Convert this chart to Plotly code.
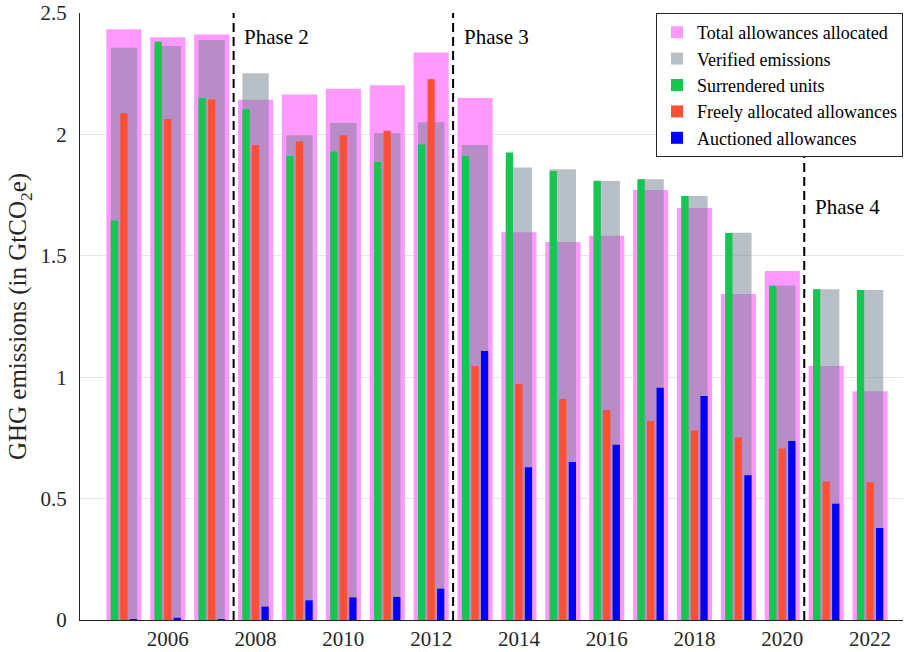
import plotly.graph_objects as go

# EU ETS phases 1-4, values in GtCO2e
years = list(range(2005, 2023))
total_allocated = [2.433, 2.400, 2.411, 2.143, 2.164, 2.188, 2.202, 2.337, 2.150,
                   1.597, 1.557, 1.583, 1.771, 1.697, 1.343, 1.437, 1.046, 0.942]
verified = [2.357, 2.364, 2.389, 2.252, 1.996, 2.047, 2.006, 2.050, 1.956,
            1.864, 1.856, 1.808, 1.815, 1.746, 1.595, 1.378, 1.362, 1.359]
surrendered = [1.645, 2.383, 2.150, 2.105, 1.911, 1.930, 1.886, 1.958, 1.911,
               1.925, 1.849, 1.809, 1.815, 1.746, 1.594, 1.376, 1.362, 1.359]
freely_allocated = [2.087, 2.063, 2.144, 1.956, 1.971, 1.997, 2.015, 2.227, 1.046,
                    0.972, 0.910, 0.865, 0.820, 0.780, 0.752, 0.706, 0.570, 0.567]
auctioned = [0.002, 0.009, 0.004, 0.055, 0.081, 0.093, 0.095, 0.129, 1.108,
             0.629, 0.651, 0.722, 0.957, 0.923, 0.596, 0.737, 0.479, 0.379]

phase_starts = [2007.5, 2012.5, 2020.5]
phase_labels = ["Phase 2", "Phase 3", "Phase 4"]
phase_label_y = [2.40, 2.40, 1.70]

FONT = "Liberation Serif, Times New Roman, serif"

fig = go.Figure()

fig.add_trace(go.Bar(x=years, y=total_allocated, name="Total allowances allocated",
                     width=0.8, offset=-0.4, marker_color="#ff99ff", marker_line_width=0))
fig.add_trace(go.Bar(x=years, y=verified, name="Verified emissions",
                     width=0.6, offset=-0.3, marker_color="rgba(112,128,144,0.5)",
                     marker_line_width=0))
fig.add_trace(go.Bar(x=years, y=surrendered, name="Surrendered units",
                     width=0.165, offset=-0.3, marker_color="#17c64f", marker_line_width=0))
fig.add_trace(go.Bar(x=years, y=freely_allocated, name="Freely allocated allowances",
                     width=0.165, offset=-0.0825, marker_color="#ff5033", marker_line_width=0))
fig.add_trace(go.Bar(x=years, y=auctioned, name="Auctioned allowances",
                     width=0.165, offset=0.135, marker_color="#0000ff", marker_line_width=0))

# phase boundaries
for xs, label, ly in zip(phase_starts, phase_labels, phase_label_y):
    fig.add_shape(type="line", x0=xs, x1=xs, y0=0, y1=1, xref="x", yref="paper",
                  line=dict(color="black", width=2, dash="9px,5px"), layer="above")
    fig.add_annotation(x=xs + 0.2, y=ly, text=label, showarrow=False,
                       xanchor="left", yanchor="middle",
                       font=dict(family=FONT, size=21, color="black"))

fig.update_layout(
    barmode="overlay",
    width=904, height=652,
    margin=dict(l=80, r=1, t=13, b=32),
    plot_bgcolor="white",
    paper_bgcolor="white",
    font=dict(family=FONT, size=21, color="#262626"),
    legend=dict(x=1, y=1, xanchor="right", yanchor="top",
                bgcolor="white", bordercolor="#262626", borderwidth=1,
                font=dict(family=FONT, size=18, color="black")),
    showlegend=True,
)
fig.update_xaxes(range=[2004, 2022.75], tickvals=list(range(2006, 2023, 2)),
                 showgrid=False, showline=True, linecolor="#262626", linewidth=1,
                 ticks="", ticklabelstandoff=0, zeroline=False, automargin=False)
fig.update_yaxes(range=[0, 2.5], tickvals=[0, 0.5, 1, 1.5, 2, 2.5],
                 ticktext=["0", "0.5", "1", "1.5", "2", "2.5"],
                 showgrid=True, gridcolor="#e6e6e6", showline=True,
                 linecolor="#262626", linewidth=1, ticks="", ticklabelstandoff=8,
                 zeroline=False, automargin=False,
                 title=dict(text="GHG emissions (in GtCO<sub>2</sub>e)", standoff=6))

# drop the default page margin so the figure sits at the window corner
fig.write_html("out.html", config={"displayModeBar": False},
               post_script="document.body.style.margin='0px';")
